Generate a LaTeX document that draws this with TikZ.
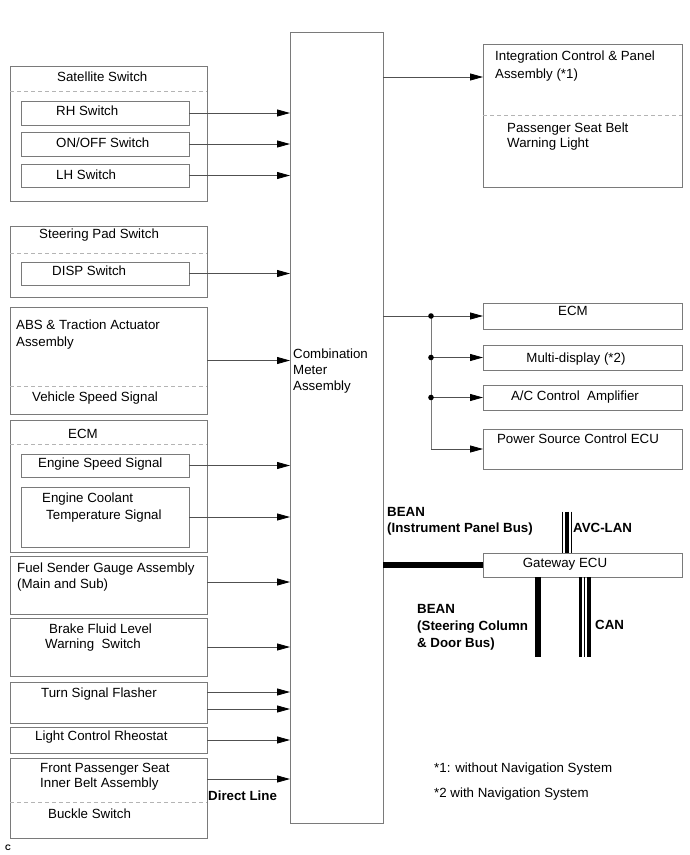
\documentclass[tikz,border=0pt]{standalone}
\usepackage{fontspec}
\setmainfont{Liberation Sans}
\usetikzlibrary{arrows.meta,calc}
\definecolor{boxc}{HTML}{7A7A7A}
\definecolor{dashc}{HTML}{B4B4B4}
\definecolor{arrc}{HTML}{505050}
\newcommand\fs{\fontsize{13.3}{16}\selectfont}
\newcommand\mybox[5]{\node[box, minimum width=#4pt, minimum height=#5pt] (#1) at (#2,#3) {};}
\begin{document}
\begin{tikzpicture}[x=1pt,y=-1pt,
  box/.style={draw=boxc, line width=0.8pt, inner sep=0pt, outer sep=0pt, anchor=north west},
  txt/.style={inner sep=0pt, anchor=base west, font=\fs},
  ctxt/.style={inner sep=0pt, anchor=base, font=\fs},
  btxt/.style={inner sep=0pt, anchor=base west, font=\fs\bfseries},
  sep/.style={draw=dashc, line width=1pt, dash pattern=on 4pt off 3pt},
  arr/.style={draw=arrc, line width=0.8pt, -{Triangle[length=13pt,width=7pt,color=black]}},
  wire/.style={draw=arrc, line width=0.8pt},
  bus/.style={draw=black, line cap=butt}]
\useasboundingbox (0,0) rectangle (690,855);
\fill[white] (0,0) rectangle (690,855);

% ---- boxes ----
\mybox{comb}{290}{32}{93}{791}
\mybox{sat}{10}{66}{197}{135}
\mybox{rh}{21}{101}{168}{24}
\mybox{onoff}{21}{132}{168}{24}
\mybox{lh}{21}{164}{168}{23}
\mybox{steer}{10}{226}{197}{71}
\mybox{disp}{21}{262}{168}{23}
\mybox{abs}{10}{307}{197}{107}
\mybox{ecm}{10}{420}{197}{132}
\mybox{es}{21}{454}{168}{23}
\mybox{ec}{21}{487}{168}{60}
\mybox{fuel}{10}{556}{197}{58}
\mybox{brake}{10}{618}{197}{58}
\mybox{turn}{10}{682}{197}{41}
\mybox{light}{10}{727}{197}{26}
\mybox{fp}{10}{758}{197}{80}
\mybox{integ}{483}{44}{199}{143}
\mybox{ecmR}{483}{303}{199}{26}
\mybox{multi}{483}{345}{199}{25}
\mybox{ac}{483}{385}{199}{25}
\mybox{power}{483}{429}{199}{40}
\mybox{gw}{483}{553}{199}{24}

% ---- dashed separators ----
\draw[sep] (sat.west |- 0,91) -- (sat.east |- 0,91);
\draw[sep] (steer.west |- 0,253) -- (steer.east |- 0,253);
\draw[sep] (abs.west |- 0,386) -- (abs.east |- 0,386);
\draw[sep] (ecm.west |- 0,444) -- (ecm.east |- 0,444);
\draw[sep] (fp.west |- 0,802) -- (fp.east |- 0,802);
\draw[sep] (integ.west |- 0,115) -- (integ.east |- 0,115);

% ---- texts ----
\node[txt] (tsat) at (57,81) {Satellite Switch};
\node[txt] (trh) at (56,115) {RH Switch};
\node[txt] (tonoff) at (56,147) {ON/OFF Switch};
\node[txt] (tlh) at (56,179) {LH Switch};
\node[txt] (tsteer) at (39,238) {Steering Pad Switch};
\node[txt] (tdisp) at (52,275) {DISP Switch};
\node[txt] (tabs1) at (16,329) {ABS \& Traction Actuator};
\node[txt] (tabs2) at (16,346) {Assembly};
\node[txt] (tvss) at (32,401) {Vehicle Speed Signal};
\node[txt] (tecm) at (68,438) {ECM};
\node[txt] (tes) at (38,467) {Engine Speed Signal};
\node[txt] (tec1) at (42,502) {Engine Coolant};
\node[txt] (tec2) at (46,519) {Temperature Signal};
\node[txt] (tfuel1) at (17,572) {Fuel Sender Gauge Assembly};
\node[txt] (tfuel2) at (17,588) {(Main and Sub)};
\node[txt] (tbr1) at (49,633) {Brake Fluid Level};
\node[txt] (tbr2) at (45,648) {Warning\ \ Switch};
\node[txt] (tturn) at (41,697) {Turn Signal Flasher};
\node[txt] (tlight) at (35,740) {Light Control Rheostat};
\node[txt] (tfp1) at (40,772) {Front Passenger Seat};
\node[txt] (tfp2) at (40,787) {Inner Belt Assembly};
\node[txt] (tbuck) at (48,818) {Buckle Switch};
\node[btxt] (tdirect) at (208,800) {Direct Line};
\node[txt] (tcomb1) at (293,358) {Combination};
\node[txt] (tcomb2) at (293,374) {Meter};
\node[txt] (tcomb3) at (293,390) {Assembly};
\node[txt] (tint1) at (495,60) {Integration Control \& Panel};
\node[txt] (tint2) at (495,78) {Assembly (*1)};
\node[txt] (tint3) at (507,132) {Passenger Seat Belt};
\node[txt] (tint4) at (507,147) {Warning Light};
\node[ctxt] (tecmr) at (573,315) {ECM};
\node[ctxt] (tmulti) at (576,362) {Multi-display (*2)};
\node[ctxt] (tac) at (575,400) {A/C Control\ \ Amplifier};
\node[ctxt] (tpower) at (578,443) {Power Source Control ECU};
\node[ctxt] (tgw) at (565,567) {Gateway ECU};
\node[btxt] (tbean1) at (387,516) {BEAN};
\node[btxt] (tbean2) at (387,532) {(Instrument Panel Bus)};
\node[btxt] (tavc) at (573,532) {AVC-LAN};
\node[btxt] (tbean3) at (417,613) {BEAN};
\node[btxt] (tbean4) at (417,630) {(Steering Column};
\node[btxt] (tbean5) at (417,647) {\& Door Bus)};
\node[btxt] (tcan) at (595,629) {CAN};
\node[txt] (tnote1) at (434,772) {*1: without Navigation System};
\node[txt] (tnote2) at (434,797) {*2 with Navigation System};
\node[inner sep=0pt, anchor=base west, font=\fontsize{8}{9}\selectfont\bfseries] (tc) at (5,850) {C};

% ---- input arrows ----
\draw[arr] (rh.east) -- (rh.east -| comb.west);
\draw[arr] (onoff.east) -- (onoff.east -| comb.west);
\draw[arr] (lh.east) -- (lh.east -| comb.west);
\draw[arr] (disp.east) -- (disp.east -| comb.west);
\draw[arr] (abs.east) -- (abs.east -| comb.west);
\draw[arr] (es.east) -- (es.east -| comb.west);
\draw[arr] (ec.east) -- (ec.east -| comb.west);
\coordinate (f1) at ($(fuel.north east)+(0,26)$);
\draw[arr] (f1) -- (f1 -| comb.west);
\draw[arr] (brake.east) -- (brake.east -| comb.west);
\coordinate (t1) at ($(turn.north east)+(0,10)$);
\coordinate (t2) at ($(turn.north east)+(0,27)$);
\draw[arr] (t1) -- (t1 -| comb.west);
\draw[arr] (t2) -- (t2 -| comb.west);
\draw[arr] (light.east) -- (light.east -| comb.west);
\coordinate (p1) at ($(fp.north east)+(0,21)$);
\draw[arr] (p1) -- (p1 -| comb.west);

% ---- output arrows ----
\coordinate (i1) at ($(integ.north west)+(0,33)$);
\draw[arr] (i1 -| comb.east) -- (i1);
\coordinate (busx) at (431,0);
\draw[arr] (ecmR.west -| comb.east) -- (ecmR.west);
\draw[wire, draw=boxc] (ecmR.west -| busx) -- (power.west -| busx);
\draw[arr] (multi.west -| busx) -- (multi.west);
\draw[arr] (ac.west -| busx) -- (ac.west);
\draw[arr] (power.west -| busx) -- (power.west);
\fill (ecmR.west -| busx) circle (2.8);
\fill (multi.west -| busx) circle (2.8);
\fill (ac.west -| busx) circle (2.8);

% ---- buses ----
\draw[bus, line width=6.5pt] (gw.west -| comb.east) -- (gw.west);
\coordinate (bsend) at (538,657);
\draw[bus, line width=6pt] (gw.south -| bsend) -- (bsend);
\coordinate (cana) at (580.7,657);
\coordinate (canb) at (584.9,657);
\coordinate (canc) at (588.9,657);
\draw[bus, line width=3.4pt] (gw.south -| cana) -- (cana);
\draw[bus, line width=0.9pt] (gw.south -| canb) -- (canb);
\draw[bus, line width=3.4pt] (gw.south -| canc) -- (canc);
\coordinate (avca) at (562.6,511.5);
\coordinate (avcb) at (567,511.5);
\coordinate (avcc) at (571,511.5);
\draw[bus, line width=0.9pt] (avca) -- (avca |- gw.north);
\draw[bus, line width=4pt] (avcb) -- (avcb |- gw.north);
\draw[bus, line width=0.9pt] (avcc) -- (avcc |- gw.north);
\end{tikzpicture}
\end{document}
